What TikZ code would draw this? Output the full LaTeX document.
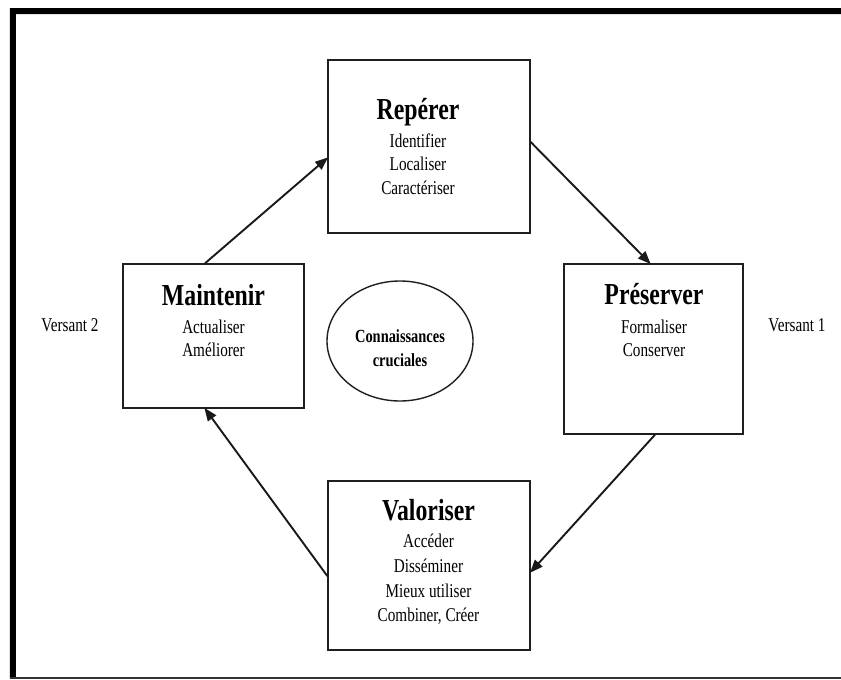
\documentclass[tikz,border=0pt]{standalone}
\usepackage{fontspec}
\setmainfont{Liberation Serif}[FakeStretch=0.78]
\usetikzlibrary{arrows.meta,shapes.geometric,calc}

\tikzset{
  stage/.style={draw=black!88, line width=1.4pt, rectangle, inner sep=0pt},
  flow/.style={draw=black!90, line width=1.9pt, -{Triangle[length=13pt,width=10pt]}, shorten >=-1pt},
  title/.style={anchor=base, inner sep=0pt, font=\fontsize{30.5}{30.5}\selectfont\bfseries},
  item/.style={anchor=base, inner sep=0pt, font=\fontsize{19.5}{23}\selectfont},
  side/.style={anchor=base, inner sep=0pt, font=\fontsize{19.5}{23}\selectfont},
  core/.style={anchor=base, inner sep=0pt, font=\fontsize{18.5}{22}\selectfont\bfseries},
}

\begin{document}
\begin{tikzpicture}[x=1pt, y=-1pt]
  \useasboundingbox (0,0) rectangle (841,680);
  \fill[white] (0,0) rectangle (841,680);

  % frame: heavy top and left bars, thin bottom rule
  \fill[black!12] (9,8) rectangle (10,678);
  \fill[black!12] (16,14) rectangle (841,15);
  \fill[black] (10,8) rectangle (841,14);
  \fill[black] (10,8) rectangle (16,678);
  \fill[black!80] (10,677) rectangle (841,679);

  % the four stages
  \node[stage, minimum width=202pt, minimum height=173pt] (rep) at (429,146.5) {};
  \node[stage, minimum width=181pt, minimum height=144pt] (mai) at (213.5,336) {};
  \node[stage, minimum width=179pt, minimum height=170pt] (pre) at (653.5,349) {};
  \node[stage, minimum width=202pt, minimum height=169pt] (val) at (429,565.5) {};

  % central ellipse
  \node[draw=black!88, line width=1.4pt, ellipse, minimum width=146pt, minimum height=120pt, inner sep=0pt] (cc) at (400,341) {};
  \node[core] (cc1) at (400,342) {Connaissances};
  \node[core] (cc2) at (400,366) {cruciales};

  % Repérer
  \node[title] (rept) at (418,119) {Repérer};
  \node[item] (rep1) at (418,147) {Identifier};
  \node[item] (rep2) at (418,170.5) {Localiser};
  \node[item] (rep3) at (418,194) {Caractériser};

  % Maintenir
  \node[title] (mait) at (213.5,305) {Maintenir};
  \node[item] (mai1) at (213.5,333) {Actualiser};
  \node[item] (mai2) at (213.5,356) {Améliorer};

  % Préserver
  \node[title] (pret) at (654,304) {Préserver};
  \node[item] (pre1) at (654,333) {Formaliser};
  \node[item] (pre2) at (654,356) {Conserver};

  % Valoriser
  \node[title] (valt) at (428.5,520) {Valoriser};
  \node[item] (val1) at (428.5,547) {Accéder};
  \node[item] (val2) at (428.5,572) {Disséminer};
  \node[item] (val3) at (428.5,597) {Mieux utiliser};
  \node[item] (val4) at (428.5,621) {Combiner, Créer};

  % side labels
  \node[side] (v2) at (70,331) {Versant 2};
  \node[side] (v1) at (797,331) {Versant 1};

  % cycle arrows
  \draw[flow] ([xshift=-8.5pt]mai.north) -- ([yshift=-11.5pt]rep.west);
  \draw[flow] ([yshift=4.5pt]rep.east) -- ([xshift=-3.5pt]pre.north);
  \draw[flow] ([xshift=1.5pt]pre.south) -- ([yshift=-6.5pt]val.east);
  \draw[flow] ([yshift=-10.5pt]val.west) -- ([xshift=-8.5pt]mai.south);
\end{tikzpicture}
\end{document}
